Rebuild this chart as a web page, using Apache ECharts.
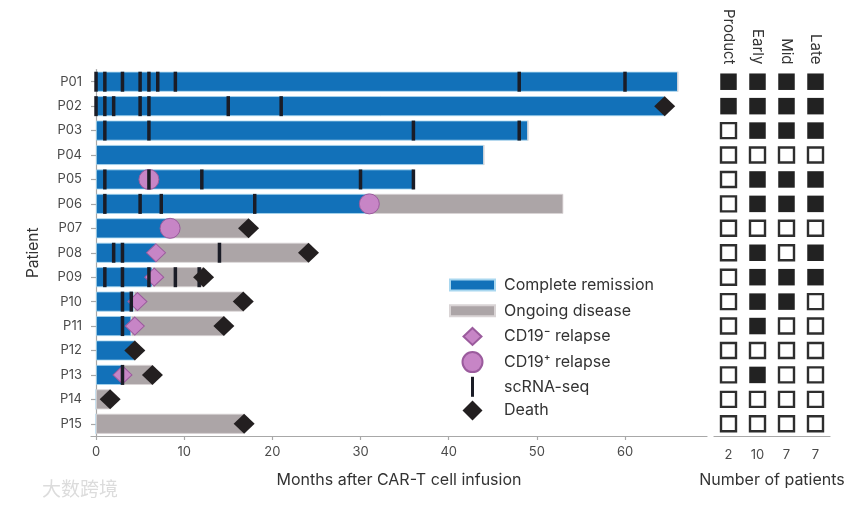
<!DOCTYPE html>
<html><head><meta charset="utf-8">
<script src="https://cdn.jsdelivr.net/npm/echarts@6/dist/echarts.min.js"></script>
<style>html,body{margin:0;padding:0;background:#fff}#c{width:865px;height:506px}</style>
</head><body><div id="c"></div>
<script>
// ---- data ----
const patients = ['P01','P02','P03','P04','P05','P06','P07','P08','P09','P10','P11','P12','P13','P14','P15'];
// end of complete remission (months)
const crEnd = [66, 64.5, 49, 44, 36, 31, 8.4, 6.8, 6.4, 4.3, 4.0, 4.4, 3.0, 0, 0];
// end of follow-up (months)
const followEnd = [66, 64.5, 49, 44, 36, 53, 17.3, 24.1, 12.2, 16.7, 14.5, 4.4, 6.4, 1.6, 16.8];
// scRNA-seq sampling times per patient (months)
const scrnaTimes = [
  [0,1,3,5,6,7,9,48,60],
  [0,1,2,5,6,15,21],
  [1,6,36,48],
  [],
  [1,6,12,30,36],
  [1,5,7.4,18],
  [],
  [2,3,14],
  [1,3,6,9,11.7],
  [3,4],
  [3],
  [],
  [3],
  [],
  []
];
const cd19NegRelapse = [['P08',6.8],['P09',6.6],['P10',4.7],['P11',4.4],['P13',3.0]];
const cd19PosRelapse = [['P05',6],['P06',31],['P07',8.4]];
const deaths = [['P02',64.5],['P07',17.3],['P08',24.1],['P09',12.2],['P10',16.7],['P11',14.5],['P12',4.4],['P13',6.4],['P14',1.6],['P15',16.8]];
const xTicks = [0,10,20,30,40,50,60];
const sampleCols = ['Product','Early','Mid','Late'];
const sampledProduct = [1,1,0,0,0,0,0,0,0,0,0,0,0,0,0];
const sampledEarly   = [1,1,1,0,1,1,0,1,1,1,1,0,1,0,0];
const sampledMid     = [1,1,1,0,1,1,0,0,1,1,0,0,0,0,0];
const sampledLate    = [1,1,1,0,1,1,0,1,1,0,0,0,0,0,0];
const patientCounts = ['2','10','7','7'];

// ---- build ----
const FONT = 'Inter';
const BLUE = '#1271b9', GREY = '#aca5a7', PINK = '#c785c6', PINKB = '#9b5b9d', DARK = '#231f20';
const greyLen = followEnd.map((v,i)=> +(v - crEnd[i]).toFixed(2));
const tickData = [];
scrnaTimes.forEach((arr,i)=>arr.forEach(t=>tickData.push([t, patients[i]])));
const matrix = [sampledProduct, sampledEarly, sampledMid, sampledLate];
const filled = [], empty = [];
matrix.forEach((col,c)=>col.forEach((v,r)=>{(v?filled:empty).push([sampleCols[c], patients[r]]);}));

const ext = 'M0,0 M49,20 ';
const legendData = [
  {name:'Complete remission', icon:'path://'+ext+'M0,4.5 L45,4.5 L45,15.5 L0,15.5 Z'},
  {name:'Ongoing disease', icon:'path://'+ext+'M0,4.5 L45,4.5 L45,15.5 L0,15.5 Z'},
  {name:'CD19⁻ relapse', icon:'path://'+ext+'M22.5,1.5 L31.5,10 L22.5,18.5 L13.5,10 Z'},
  {name:'CD19⁺ relapse', icon:'path://'+ext+'M12.5,10 A10,10 0 1,0 32.5,10 A10,10 0 1,0 12.5,10 Z'},
  {name:'scRNA-seq', icon:'path://'+ext+'M21,0 L24,0 L24,20 L21,20 Z'},
  {name:'Death', icon:'path://'+ext+'M22.5,0 L32.5,10 L22.5,20 L12.5,10 Z'}
];

const axisLineStyle = {color:'#a8a8a8', width:1.2};
const option = {
  backgroundColor:'#fff',
  animation:false,
  textStyle:{fontFamily:FONT},
  grid:[
    {left:91, right:158, top:69.5, bottom:70},
    {left:714, width:116, top:69.5, bottom:70}
  ],
  xAxis:[
    {type:'value', gridIndex:0, min:-0.57, max:69.3,
     name:'Months after CAR-T cell infusion', nameLocation:'middle', nameGap:36,
     nameTextStyle:{fontSize:16, color:'#333', fontFamily:FONT},
     axisLine:{show:true, lineStyle:axisLineStyle},
     axisTick:{show:true, length:4, customValues:xTicks, lineStyle:axisLineStyle},
     axisLabel:{customValues:xTicks, fontSize:13, color:'#4a4a4a', margin:10, fontFamily:FONT},
     splitLine:{show:false}},
    {type:'category', gridIndex:1, position:'top', data:sampleCols,
     axisLine:{show:false}, axisTick:{show:false},
     axisLabel:{rotate:90, fontSize:15, color:'#333', margin:5, fontFamily:FONT}},
    {type:'category', gridIndex:1, position:'bottom', data:patientCounts,
     name:'Number of patients', nameLocation:'middle', nameGap:36,
     nameTextStyle:{fontSize:16, color:'#333', fontFamily:FONT},
     axisLine:{show:true, lineStyle:axisLineStyle}, axisTick:{show:false},
     axisLabel:{fontSize:13, color:'#4a4a4a', margin:13, fontFamily:FONT}}
  ],
  yAxis:[
    {type:'category', gridIndex:0, data:patients, inverse:true,
     name:'Patient', nameLocation:'middle', nameGap:50, nameRotate:90,
     nameTextStyle:{fontSize:15.5, color:'#333', fontFamily:FONT},
     axisLine:{show:true, lineStyle:axisLineStyle},
     axisTick:{show:true, length:5, alignWithLabel:true, lineStyle:axisLineStyle},
     axisLabel:{fontSize:13, color:'#4a4a4a', margin:9, fontFamily:FONT}},
    {type:'category', gridIndex:1, data:patients, inverse:true, show:false}
  ],
  legend:{
    orient:'vertical', left:449, top:274, itemWidth:49, itemHeight:20, itemGap:3.7,
    padding:0, selectedMode:false,
    textStyle:{fontSize:16, lineHeight:20, color:'#333', fontFamily:FONT},
    data:legendData
  },
  graphic:[
    {type:'text', left:42, top:479, silent:true,
     style:{text:'大数跨境', fontSize:19, fontFamily:'Noto Sans CJK SC', fill:'#dcdcdc'}}
  ],
  series:[
    {name:'Complete remission', type:'bar', stack:'t', xAxisIndex:0, yAxisIndex:0,
     barWidth:20, data:crEnd,
     itemStyle:{color:BLUE, borderColor:'#a9d7ef', borderWidth:0.8}},
    {name:'Ongoing disease', type:'bar', stack:'t', xAxisIndex:0, yAxisIndex:0,
     barWidth:20, data:greyLen,
     itemStyle:{color:GREY, borderColor:'#d9d4d5', borderWidth:0.8}},
    {name:'CD19⁻ relapse', type:'scatter', xAxisIndex:0, yAxisIndex:0,
     symbol:'diamond', symbolSize:[19,18], data:cd19NegRelapse.map(d=>[d[1], d[0]]),
     itemStyle:{color:PINK, borderColor:PINKB, borderWidth:1, opacity:1}},
    {name:'CD19⁺ relapse', type:'scatter', xAxisIndex:0, yAxisIndex:0,
     symbol:'circle', symbolSize:20, data:cd19PosRelapse.map(d=>[d[1], d[0]]),
     itemStyle:{color:PINK, borderColor:PINKB, borderWidth:1, opacity:1}},
    {name:'scRNA-seq', type:'scatter', xAxisIndex:0, yAxisIndex:0,
     symbol:'rect', symbolSize:[3.5,20], data:tickData,
     itemStyle:{color:'#1a1c26', opacity:1}},
    {name:'Death', type:'scatter', xAxisIndex:0, yAxisIndex:0,
     symbol:'diamond', symbolSize:[21,20], data:deaths.map(d=>[d[1], d[0]]),
     itemStyle:{color:DARK, opacity:1}},
    {type:'scatter', xAxisIndex:1, yAxisIndex:1, symbol:'rect', symbolSize:16.5,
     data:filled, itemStyle:{color:'#222', opacity:1}},
    {type:'scatter', xAxisIndex:1, yAxisIndex:1, symbol:'rect', symbolSize:15,
     data:empty, itemStyle:{color:'#fff', borderColor:'#2e2e2e', borderWidth:2.4, opacity:1}}
  ]
};
const chart = echarts.init(document.getElementById('c'), null, {renderer:'canvas'});
chart.setOption(option);
</script>
</body></html>
